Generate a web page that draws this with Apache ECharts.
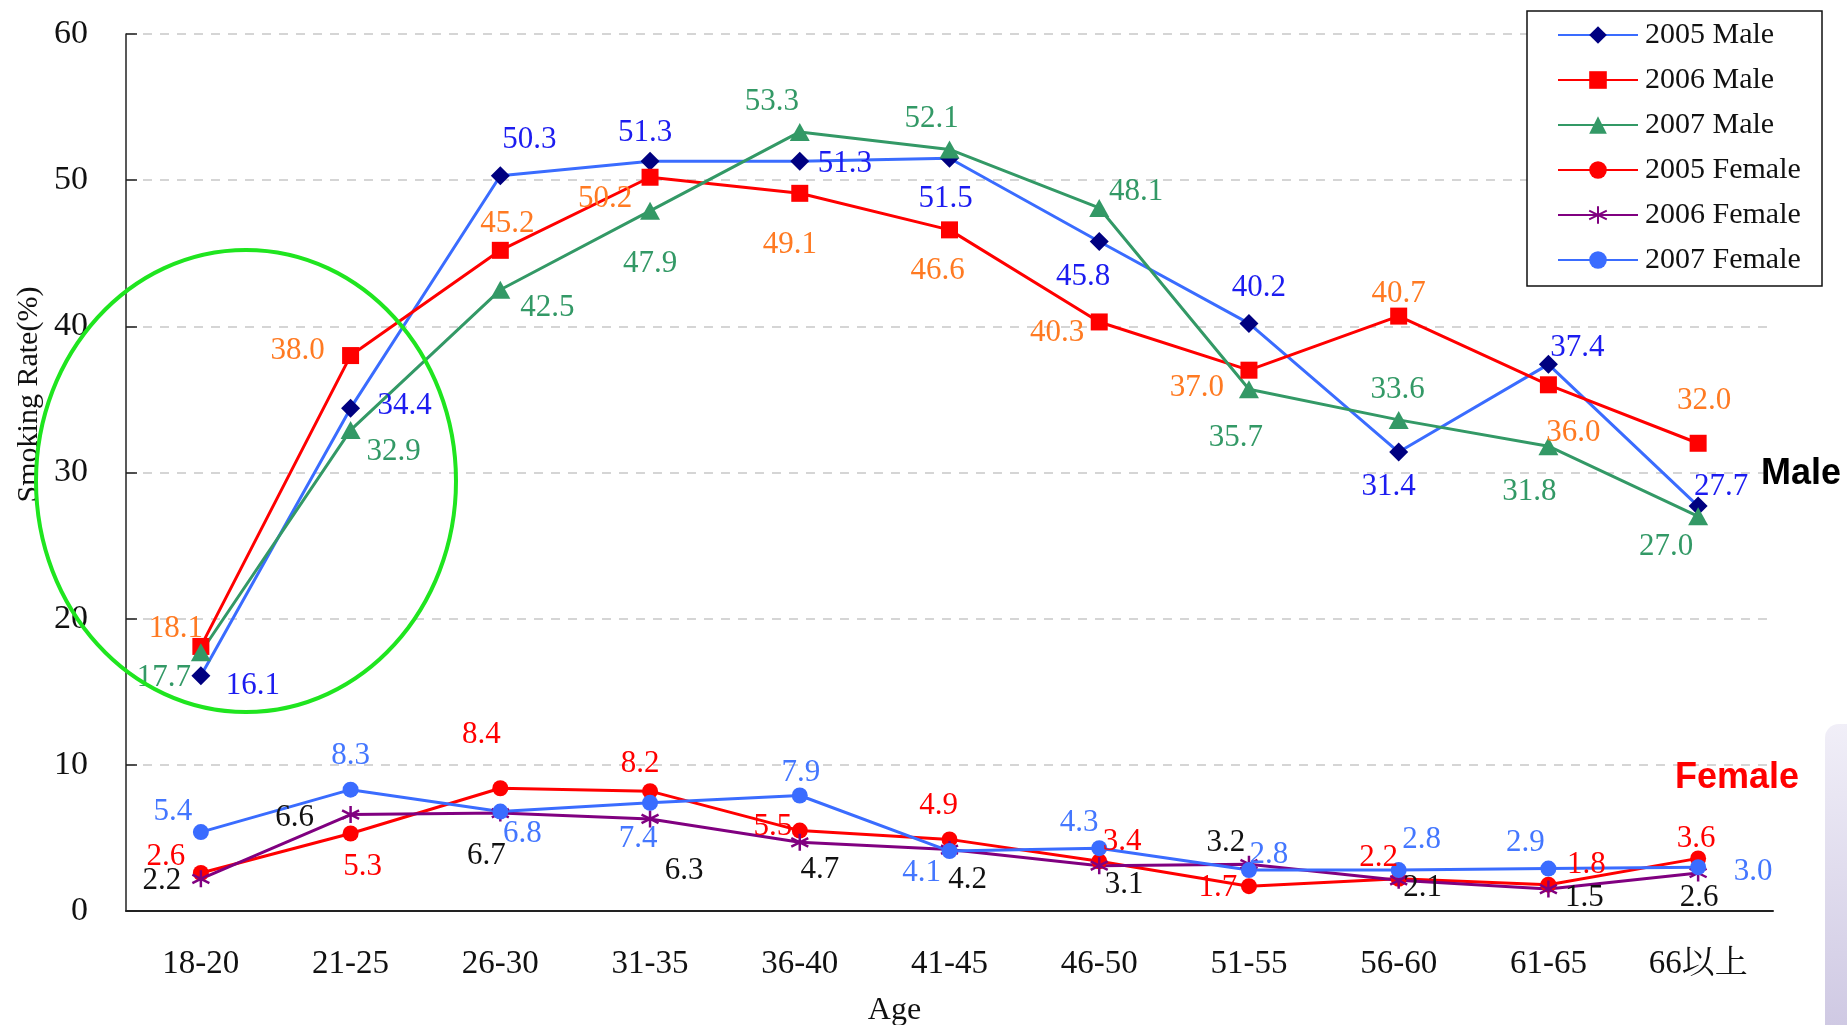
<!DOCTYPE html>
<html>
<head>
<meta charset="utf-8">
<title>Smoking Rate by Age</title>
<script src="https://cdn.jsdelivr.net/npm/echarts@6/dist/echarts.min.js"></script>
<style>
    html, body { margin: 0; padding: 0; background: #fff; }
    #chart { width: 1847px; height: 1025px; }
</style>
</head>
<body>
<div id="chart"></div>
<script>
// Data
const ageGroups = ['18-20', '21-25', '26-30', '31-35', '36-40', '41-45', '46-50', '51-55', '56-60', '61-65', '66以上'];
const yTicks = [0, 10, 20, 30, 40, 50, 60];

const male2005 = [16.1, 34.4, 50.3, 51.3, 51.3, 51.5, 45.8, 40.2, 31.4, 37.4, 27.7];
const male2006 = [18.1, 38.0, 45.2, 50.2, 49.1, 46.6, 40.3, 37.0, 40.7, 36.0, 32.0];
const male2007 = [17.7, 32.9, 42.5, 47.9, 53.3, 52.1, 48.1, 35.7, 33.6, 31.8, 27.0];
const female2005 = [2.6, 5.3, 8.4, 8.2, 5.5, 4.9, 3.4, 1.7, 2.2, 1.8, 3.6];
const female2006 = [2.2, 6.6, 6.7, 6.3, 4.7, 4.2, 3.1, 3.2, 2.1, 1.5, 2.6];
const female2007 = [5.4, 8.3, 6.8, 7.4, 7.9, 4.1, 4.3, 2.8, 2.8, 2.9, 3.0];

// Label nudges (px, from the marker centre) so the numbers sit where the original put them
const offM05 = [[52,10],[54,-2],[29,-36],[-5,-28],[45,3],[-4,41],[-16,35],[10,-36],[-10,35],[29,-16],[23,-19]];
const offM06 = [[-25,-18],[-53,-5],[7,-26],[-45,22],[-10,52],[-12,41],[-42,11],[-52,18],[0,-22],[25,48],[6,-42]];
const offM07 = [[-37,26],[43,22],[47,18],[0,53],[-28,-30],[-18,-31],[37,-16],[-13,49],[-1,-30],[-19,46],[-32,31]];
const offF05 = [[-35,-16],[12,33],[-19,-53],[-10,-27],[-27,-4],[-11,-34],[23,-19],[-31,2],[-20,-21],[38,-20],[-2,-20]];
const offF06 = [[-39,2],[-56,3],[-14,43],[34,52],[20,28],[18,30],[25,19],[-23,-21],[24,8],[36,9],[1,25]];
const offF07 = [[-28,-20],[0,-34],[22,22],[-12,36],[1,-23],[-28,22],[-20,-25],[20,-15],[23,-30],[-23,-26],[55,5]];

const SERIF = "'Liberation Serif', 'Noto Serif CJK TC', 'Noto Sans CJK TC', serif";
const ASTERISK = 'path://M10,0L10,20M1.3,5L18.7,15M1.3,15L18.7,5';

function makeSeries(name, values, offsets, s) {
    return {
        name: name,
        type: 'line',
        symbol: s.symbol,
        symbolSize: s.size,
        lineStyle: { color: s.line, width: 3 },
        itemStyle: { color: s.marker, borderColor: s.marker, borderWidth: s.border || 0 },
        emphasis: { disabled: true },
        label: {
            show: true,
            position: 'inside',
            color: s.labelColor,
            fontFamily: SERIF,
            fontSize: 31,
            formatter: p => Number(p.value).toFixed(1)
        },
        data: values.map((v, i) => ({
            value: v,
            label: { offset: offsets[i] }
        }))
    };
}

const chart = echarts.init(document.getElementById('chart'), null, { renderer: 'canvas' });

const option = {
    backgroundColor: '#fff',
    animation: false,
    // fixed plot box; don't let v6 squeeze it to fit the axis name
    grid: { left: 126, top: 34, right: 74, bottom: 114, outerBoundsMode: 'none', containLabel: false },
    legend: {
        orient: 'vertical',
        left: 1557,
        top: 20,
        padding: 0,
        itemWidth: 80,
        itemHeight: 22,
        itemGap: 15,
        z: 10,
        textStyle: { fontFamily: SERIF, fontSize: 30, lineHeight: 30, color: '#111', padding: [0, 0, 0, 2] },
        data: ['2005 Male', '2006 Male', '2007 Male', '2005 Female', '2006 Female', '2007 Female']
    },
    xAxis: {
        type: 'category',
        data: ageGroups,
        boundaryGap: true,
        name: 'Age',
        nameLocation: 'middle',
        nameGap: 84,
        nameMoveOverlap: false,
        nameTextStyle: { fontFamily: SERIF, fontSize: 32, color: '#111', padding: [0, 110, 0, 0] },
        axisLine: { lineStyle: { color: '#222', width: 2 } },
        axisTick: { inside: true, length: 12, lineStyle: { color: '#222', width: 1.5 } },
        axisLabel: { fontFamily: SERIF, fontSize: 33, color: '#111', margin: 37 },
        splitLine: { show: false }
    },
    yAxis: {
        type: 'value',
        min: yTicks[0],
        max: yTicks[yTicks.length - 1],
        interval: 10,
        name: 'Smoking Rate(%)',
        nameLocation: 'middle',
        nameRotate: 90,
        nameGap: 82,
        nameMoveOverlap: false,
        nameTextStyle: { fontFamily: SERIF, fontSize: 30, color: '#111', padding: [0, 0, 0, 156] },
        axisLine: { show: true, lineStyle: { color: '#222', width: 1.5 } },
        axisTick: { show: true, inside: true, length: 11, lineStyle: { color: '#222', width: 1.5 } },
        axisLabel: { fontFamily: SERIF, fontSize: 34, color: '#111', margin: 38 },
        splitLine: { show: true, lineStyle: { color: '#c8c8c8', width: 1.5, type: [9, 8] } }
    },
    graphic: [
        // legend frame
        {
            type: 'rect', z: 1,
            shape: { x: 1527, y: 11, width: 295, height: 275 },
            style: { fill: '#fff', stroke: '#111', lineWidth: 1.5 }
        },
        // green highlight ring round the youngest groups
        {
            type: 'ellipse', z: 5,
            shape: { cx: 246, cy: 481, rx: 210, ry: 231 },
            style: { fill: 'none', stroke: '#1fe51f', lineWidth: 4 }
        },
        {
            type: 'text', z: 5, left: 1761, top: 456,
            style: { text: 'Male', fill: '#000', font: "bold 36px 'Liberation Sans', Arial, sans-serif" }
        },
        {
            type: 'text', z: 5, left: 1675, top: 760,
            style: { text: 'Female', fill: '#ff0000', font: "bold 36px 'Liberation Sans', Arial, sans-serif" }
        },
        // faint lavender edge of the slide background, bottom right
        {
            type: 'rect', z: 0,
            shape: { x: 1825, y: 724, width: 22, height: 301, r: [14, 0, 0, 0] },
            style: {
                fill: new echarts.graphic.LinearGradient(0, 0, 1, 1, [
                    { offset: 0, color: '#f1eff8' },
                    { offset: 1, color: '#cfc9e3' }
                ])
            }
        }
    ],
    series: [
        makeSeries('2005 Male', male2005, offM05, { symbol: 'diamond', size: 19, line: '#3a6cff', marker: '#000080', labelColor: '#1c1cf0' }),
        makeSeries('2006 Male', male2006, offM06, { symbol: 'rect', size: 17, line: '#ff0000', marker: '#ff0000', labelColor: '#ff7a22' }),
        makeSeries('2007 Male', male2007, offM07, { symbol: 'triangle', size: [20, 18], line: '#339966', marker: '#339966', labelColor: '#339966' }),
        makeSeries('2005 Female', female2005, offF05, { symbol: 'circle', size: 16, line: '#ff0000', marker: '#ff0000', labelColor: '#ff0000' }),
        makeSeries('2006 Female', female2006, offF06, { symbol: ASTERISK, size: 17, line: '#800080', marker: '#800080', border: 2.5, labelColor: '#111' }),
        makeSeries('2007 Female', female2007, offF07, { symbol: 'circle', size: 16, line: '#3a6cff', marker: '#3a6cff', labelColor: '#4477ff' })
    ]
};

chart.setOption(option);
window.addEventListener('resize', () => chart.resize());
</script>
</body>
</html>
